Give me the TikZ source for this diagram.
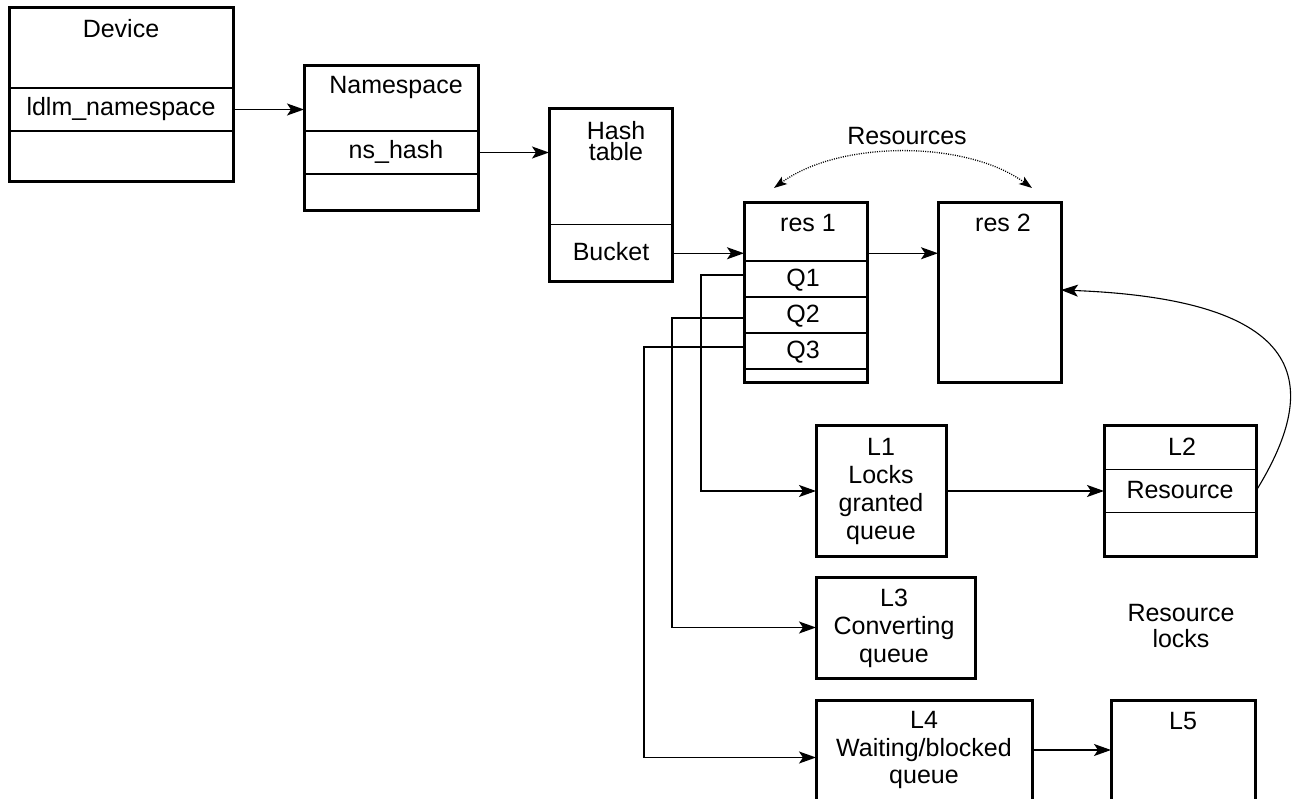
\documentclass[tikz,border=0pt]{standalone}
\usepackage{fontspec}
\setmainfont{Liberation Sans}
\usetikzlibrary{arrows.meta}
\begin{document}
\begin{tikzpicture}[x=1pt,y=-1pt,
  box/.style={draw, line width=3pt, anchor=north west, inner sep=0pt, outer sep=0pt},
  row/.style={anchor=north west, inner sep=0pt, outer sep=0pt},
  div/.style={line width=1.3pt},
  txt/.style={font=\fontsize{25}{28}\selectfont, align=center, inner sep=0pt},
  conn/.style={line width=1.4pt},
  arr/.style={conn, -{Stealth[length=17pt,width=12pt,inset=4pt]}},
  dotarr/.style={line width=1.3pt, dash pattern=on 1pt off 1.3pt,
     {Stealth[length=13pt,width=9pt,inset=3pt]}-{Stealth[length=13pt,width=9pt,inset=3pt]}},
  ]
\useasboundingbox (0,0) rectangle (1299,799);
\clip (0,0) rectangle (1299,799);

% Device
\node[box, minimum width=224, minimum height=174] (dev) at (9,8) {};
\node[row, minimum width=224, minimum height=43] (devrow) at (9,88) {};
\draw[div] (devrow.north west) -- (devrow.north east);
\draw[div] (devrow.south west) -- (devrow.south east);
\node[txt] (tdev) at (121,29) {Device};
\node[txt] (tldlm) at (121,109) {ldlm\_namespace};

% Namespace
\node[box, minimum width=174, minimum height=145] (ns) at (304,66) {};
\node[row, minimum width=174, minimum height=43] (nsrow) at (304,131) {};
\draw[div] (nsrow.north west) -- (nsrow.north east);
\draw[div] (nsrow.south west) -- (nsrow.south east);
\node[txt] (tns) at (396,87) {Namespace};
\node[txt] (tnshash) at (396,152) {ns\_hash};

% Hash table
\node[box, minimum width=123, minimum height=173] (hash) at (549,109) {};
\node[row, minimum width=123, minimum height=57.5] (bucket) at (549,224.5) {};
\draw[div] (bucket.north west) -- (bucket.north east);
\node[txt, font=\fontsize{25}{21}\selectfont] (thash) at (616,141) {Hash\\table};
\node[txt] (tbucket) at (611,252) {Bucket};

% res 1
\node[box, minimum width=123, minimum height=180] (res1) at (744,203) {};
\node[row, minimum width=123, minimum height=36] (q1) at (744,261) {};
\node[row, minimum width=123, minimum height=36] (q2) at (744,297) {};
\node[row, minimum width=123, minimum height=36] (q3) at (744,333) {};
\draw[div] (q1.north west) -- (q1.north east);
\draw[div] (q2.north west) -- (q2.north east);
\draw[div] (q3.north west) -- (q3.north east);
\draw[div] (q3.south west) -- (q3.south east);
\node[txt] (tres1) at (808,223) {res 1};
\node[txt] (tq1) at (803,280) {Q1};
\node[txt] (tq2) at (803,316) {Q2};
\node[txt] (tq3) at (803,352) {Q3};

% res 2
\node[box, minimum width=123, minimum height=180] (res2) at (938,203) {};
\node[txt] (tres2) at (1003,223) {res 2};

% Resources label and dotted arc
\node[txt] (tresources) at (907,136) {Resources};
\coordinate (ra) at (774,188);
\coordinate (rb) at (1032,188);
\draw[dotarr] (ra) .. controls (840,140) and (966,140) .. (rb);

% L1
\node[box, minimum width=130, minimum height=130] (l1) at (816,426) {};
\node[txt] (tl1) at (881,491) {L1\\Locks\\granted\\queue};

% L2
\node[box, minimum width=152, minimum height=130] (l2) at (1104,426) {};
\node[row, minimum width=152, minimum height=43] (l2row) at (1104,469.5) {};
\draw[div] (l2row.north west) -- (l2row.north east);
\draw[div] (l2row.south west) -- (l2row.south east);
\node[txt] (tl2) at (1182,447) {L2};
\node[txt] (tl2res) at (1180,490) {Resource};

% L3
\node[box, minimum width=159, minimum height=101] (l3) at (816,577) {};
\node[txt] (tl3) at (894,628) {L3\\Converting\\queue};

% Resource locks
\node[txt, font=\fontsize{25}{26}\selectfont] (tlocks) at (1181,626) {Resource\\locks};

% L4, L5
\node[box, minimum width=216, minimum height=115] (l4) at (816,700) {};
\node[txt, font=\fontsize{25}{27.3}\selectfont] (tl4) at (924,750) {L4\\Waiting/blocked\\queue};
\node[box, minimum width=144, minimum height=115] (l5) at (1111,700) {};
\node[txt] (tl5) at (1183,721) {L5};

% connectors
\draw[arr] (devrow.east) -- (ns.west |- devrow.east);
\draw[arr] (nsrow.east) -- (hash.west |- nsrow.east);
\draw[arr] (bucket.east) -- (res1.west |- bucket.east);
\draw[arr] (res1.east |- bucket.east) -- (res2.west |- bucket.east);
\draw[arr] ([yshift=4pt]q1.west) -- ++(-43,0) |- (l1.west);
\draw[arr] ([yshift=-3pt]q2.west) -- ++(-72,0) |- (l3.west);
\draw[arr] ([yshift=4pt]q3.west) -- ++(-100,0) |- (l4.west);
\draw[arr] (l1.east) -- (l2row.west);
\draw[arr] ([yshift=7.5pt]l4.east) -- ([yshift=7.5pt]l5.west);
\draw[conn, line width=1.1pt, -{Stealth[length=17pt,width=12pt,inset=4pt]}]
  (l2row.east) .. controls +(61,-99) and +(259,10) .. ([yshift=3pt]res2.east);
\end{tikzpicture}
\end{document}
